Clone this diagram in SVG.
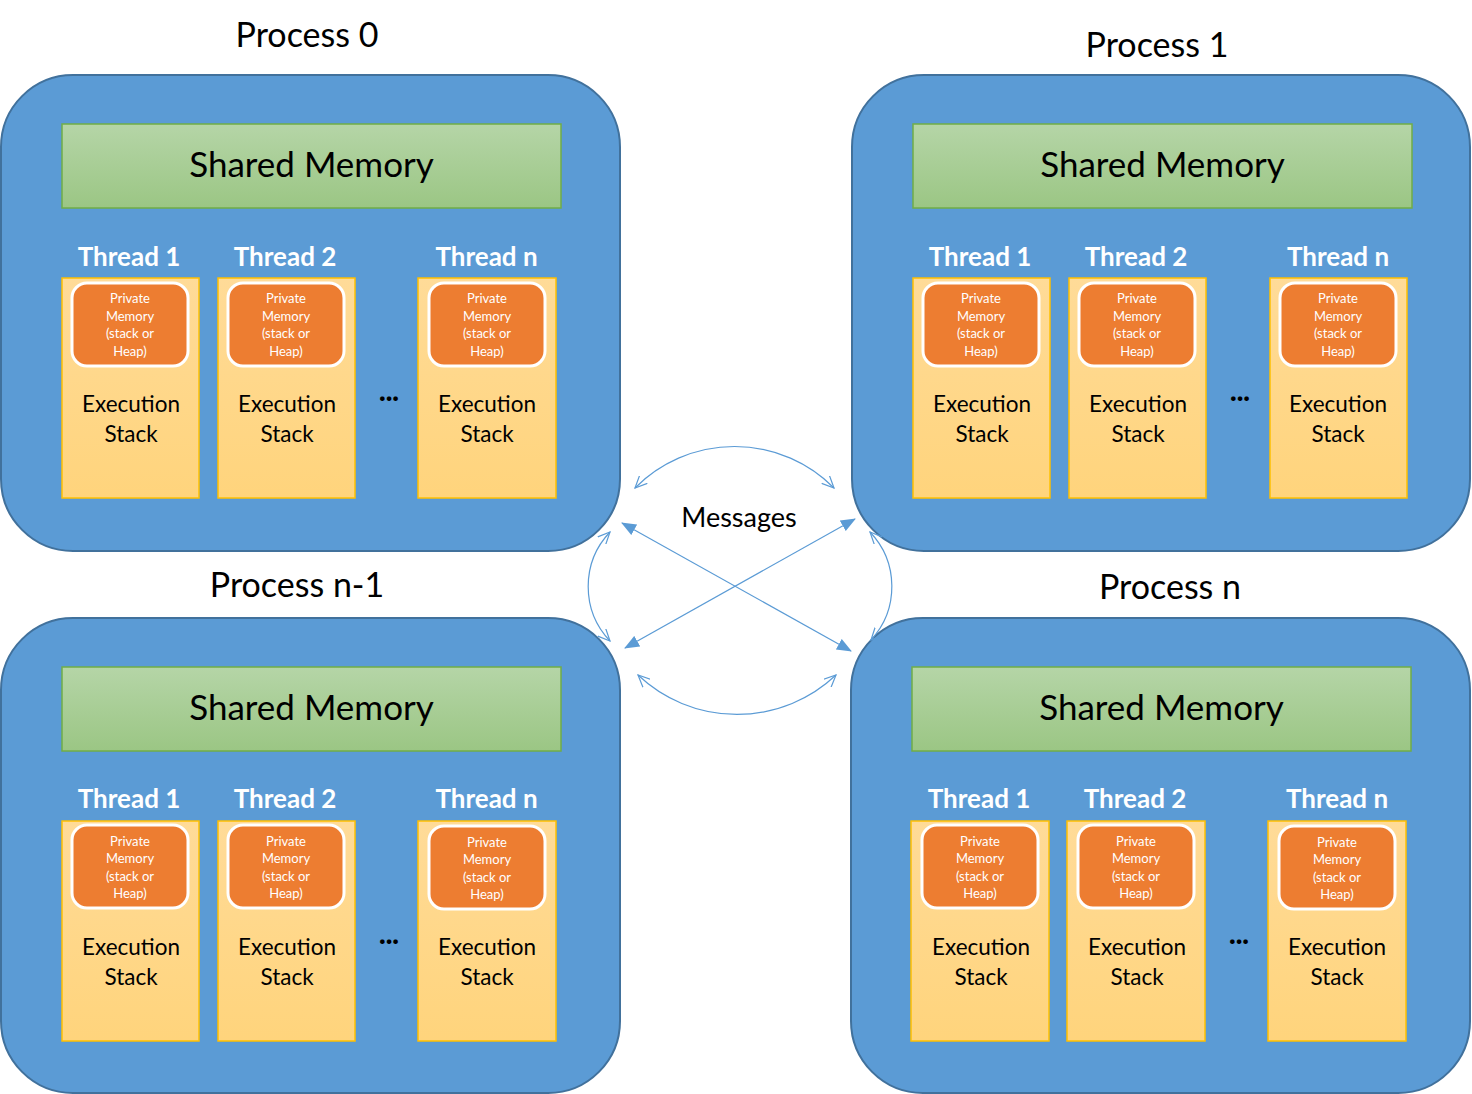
<svg xmlns="http://www.w3.org/2000/svg" width="1472" height="1094" viewBox="0 0 1472 1094">
<style>
text{font-family:Lato,"Liberation Sans",sans-serif;text-anchor:middle}
.proc{fill:#5B9BD5;stroke:#41719C;stroke-width:2}
.shared{fill:url(#gGreen);stroke:#70AD47;stroke-width:1.5}
.thread{fill:url(#gOrange);stroke:#FFC000;stroke-width:1.5}
.priv{fill:#ED7D31;stroke:#FFFFFF;stroke-width:3}
.plabel{font-size:34px;fill:#000}
.stext{font-size:35px;fill:#000}
.tlabel{font-size:26px;font-weight:bold;fill:#FFFFFF}
.ptext{font-size:13px;fill:#FFFFFF}
.etext{font-size:22.5px;fill:#000}
.dots{font-size:28px;font-weight:900;fill:#000}
.conn{fill:none;stroke:#5B9BD5;stroke-width:1.2}
</style>
<defs>
<linearGradient id="gGreen" x1="0" y1="0" x2="0" y2="1"><stop offset="0" stop-color="#B5D5A7"/><stop offset="1" stop-color="#9BC684"/></linearGradient>
<linearGradient id="gOrange" x1="0" y1="0" x2="0" y2="1"><stop offset="0" stop-color="#FFDB98"/><stop offset="1" stop-color="#FFD47C"/></linearGradient>
<marker id="tri" viewBox="0 0 15 12" refX="14" refY="6" markerWidth="15" markerHeight="12" markerUnits="userSpaceOnUse" orient="auto-start-reverse"><path d="M0,0 L15,6 L0,12 z" fill="#5B9BD5"/></marker>
<marker id="open" viewBox="0 0 13 12" refX="12" refY="6" markerWidth="13" markerHeight="12" markerUnits="userSpaceOnUse" orient="auto-start-reverse"><path d="M0,0.5 L12,6 L0,11.5" fill="none" stroke="#5B9BD5" stroke-width="1.2"/></marker>
</defs>

<g id="process0">
<text class="plabel" x="307" y="47">Process 0</text>
<rect class="proc" x="1" y="75" width="619" height="476" rx="72"/>
<g id="p0-shared"><rect class="shared" x="62" y="124" width="499" height="84"/><text class="stext" x="311.5" y="177">Shared Memory</text></g>
<g id="p0-t1"><text class="tlabel" x="129" y="266">Thread 1</text><rect class="thread" x="62" y="278" width="137" height="220"/><rect class="priv" x="72" y="283" width="116" height="83" rx="15"/><text class="ptext" x="130" y="303">Private</text><text class="ptext" x="130" y="320.5">Memory</text><text class="ptext" x="130" y="338">(stack or</text><text class="ptext" x="130" y="355.5">Heap)</text><text class="etext" x="131" y="412">Execution</text><text class="etext" x="131" y="442">Stack</text></g>
<g id="p0-t2"><text class="tlabel" x="285" y="266">Thread 2</text><rect class="thread" x="218" y="278" width="137" height="220"/><rect class="priv" x="228" y="283" width="116" height="83" rx="15"/><text class="ptext" x="286" y="303">Private</text><text class="ptext" x="286" y="320.5">Memory</text><text class="ptext" x="286" y="338">(stack or</text><text class="ptext" x="286" y="355.5">Heap)</text><text class="etext" x="287" y="412">Execution</text><text class="etext" x="287" y="442">Stack</text></g>
<text class="dots" x="389" y="401">...</text>
<g id="p0-tn"><text class="tlabel" x="486.5" y="266">Thread n</text><rect class="thread" x="418" y="278" width="138" height="220"/><rect class="priv" x="429" y="283" width="116" height="83" rx="15"/><text class="ptext" x="487" y="303">Private</text><text class="ptext" x="487" y="320.5">Memory</text><text class="ptext" x="487" y="338">(stack or</text><text class="ptext" x="487" y="355.5">Heap)</text><text class="etext" x="487" y="412">Execution</text><text class="etext" x="487" y="442">Stack</text></g>
</g>

<g id="process1">
<text class="plabel" x="1157" y="57">Process 1</text>
<rect class="proc" x="852" y="75" width="618" height="476" rx="72"/>
<g id="p1-shared"><rect class="shared" x="913" y="124" width="499" height="84"/><text class="stext" x="1162.5" y="177">Shared Memory</text></g>
<g id="p1-t1"><text class="tlabel" x="980" y="266">Thread 1</text><rect class="thread" x="913" y="278" width="137" height="220"/><rect class="priv" x="923" y="283" width="116" height="83" rx="15"/><text class="ptext" x="981" y="303">Private</text><text class="ptext" x="981" y="320.5">Memory</text><text class="ptext" x="981" y="338">(stack or</text><text class="ptext" x="981" y="355.5">Heap)</text><text class="etext" x="982" y="412">Execution</text><text class="etext" x="982" y="442">Stack</text></g>
<g id="p1-t2"><text class="tlabel" x="1136" y="266">Thread 2</text><rect class="thread" x="1069" y="278" width="137" height="220"/><rect class="priv" x="1079" y="283" width="116" height="83" rx="15"/><text class="ptext" x="1137" y="303">Private</text><text class="ptext" x="1137" y="320.5">Memory</text><text class="ptext" x="1137" y="338">(stack or</text><text class="ptext" x="1137" y="355.5">Heap)</text><text class="etext" x="1138" y="412">Execution</text><text class="etext" x="1138" y="442">Stack</text></g>
<text class="dots" x="1240" y="401">...</text>
<g id="p1-tn"><text class="tlabel" x="1338" y="266">Thread n</text><rect class="thread" x="1270" y="278" width="137" height="220"/><rect class="priv" x="1280" y="283" width="116" height="83" rx="15"/><text class="ptext" x="1338" y="303">Private</text><text class="ptext" x="1338" y="320.5">Memory</text><text class="ptext" x="1338" y="338">(stack or</text><text class="ptext" x="1338" y="355.5">Heap)</text><text class="etext" x="1338" y="412">Execution</text><text class="etext" x="1338" y="442">Stack</text></g>
</g>

<g id="processN1">
<text class="plabel" x="297" y="597">Process n-1</text>
<rect class="proc" x="1" y="618" width="619" height="475" rx="72"/>
<g id="pn1-shared"><rect class="shared" x="62" y="667" width="499" height="84"/><text class="stext" x="311.5" y="720">Shared Memory</text></g>
<g id="pn1-t1"><text class="tlabel" x="129" y="808">Thread 1</text><rect class="thread" x="62" y="821" width="137" height="220"/><rect class="priv" x="72" y="825" width="116" height="83" rx="15"/><text class="ptext" x="130" y="845.5">Private</text><text class="ptext" x="130" y="863">Memory</text><text class="ptext" x="130" y="880.5">(stack or</text><text class="ptext" x="130" y="898">Heap)</text><text class="etext" x="131" y="955">Execution</text><text class="etext" x="131" y="985">Stack</text></g>
<g id="pn1-t2"><text class="tlabel" x="285" y="808">Thread 2</text><rect class="thread" x="218" y="821" width="137" height="220"/><rect class="priv" x="228" y="825" width="116" height="83" rx="15"/><text class="ptext" x="286" y="845.5">Private</text><text class="ptext" x="286" y="863">Memory</text><text class="ptext" x="286" y="880.5">(stack or</text><text class="ptext" x="286" y="898">Heap)</text><text class="etext" x="287" y="955">Execution</text><text class="etext" x="287" y="985">Stack</text></g>
<text class="dots" x="389" y="944">...</text>
<g id="pn1-tn"><text class="tlabel" x="486.5" y="808">Thread n</text><rect class="thread" x="418" y="821" width="138" height="220"/><rect class="priv" x="429" y="826" width="116" height="83" rx="15"/><text class="ptext" x="487" y="846.5">Private</text><text class="ptext" x="487" y="864">Memory</text><text class="ptext" x="487" y="881.5">(stack or</text><text class="ptext" x="487" y="899">Heap)</text><text class="etext" x="487" y="955">Execution</text><text class="etext" x="487" y="985">Stack</text></g>
</g>

<g id="processN">
<text class="plabel" x="1170" y="599">Process n</text>
<rect class="proc" x="851" y="618" width="619" height="475" rx="72"/>
<g id="pn-shared"><rect class="shared" x="912" y="667" width="499" height="84"/><text class="stext" x="1161.5" y="720">Shared Memory</text></g>
<g id="pn-t1"><text class="tlabel" x="979" y="808">Thread 1</text><rect class="thread" x="911" y="821" width="138" height="220"/><rect class="priv" x="922" y="825" width="116" height="83" rx="15"/><text class="ptext" x="980" y="845.5">Private</text><text class="ptext" x="980" y="863">Memory</text><text class="ptext" x="980" y="880.5">(stack or</text><text class="ptext" x="980" y="898">Heap)</text><text class="etext" x="981" y="955">Execution</text><text class="etext" x="981" y="985">Stack</text></g>
<g id="pn-t2"><text class="tlabel" x="1135" y="808">Thread 2</text><rect class="thread" x="1067" y="821" width="138" height="220"/><rect class="priv" x="1078" y="825" width="116" height="83" rx="15"/><text class="ptext" x="1136" y="845.5">Private</text><text class="ptext" x="1136" y="863">Memory</text><text class="ptext" x="1136" y="880.5">(stack or</text><text class="ptext" x="1136" y="898">Heap)</text><text class="etext" x="1137" y="955">Execution</text><text class="etext" x="1137" y="985">Stack</text></g>
<text class="dots" x="1239" y="944">...</text>
<g id="pn-tn"><text class="tlabel" x="1337" y="808">Thread n</text><rect class="thread" x="1268" y="821" width="138" height="220"/><rect class="priv" x="1279" y="826" width="116" height="83" rx="15"/><text class="ptext" x="1337" y="846.5">Private</text><text class="ptext" x="1337" y="864">Memory</text><text class="ptext" x="1337" y="881.5">(stack or</text><text class="ptext" x="1337" y="899">Heap)</text><text class="etext" x="1337" y="955">Execution</text><text class="etext" x="1337" y="985">Stack</text></g>
</g>

<g id="connectors">
<path class="conn" d="M635,488 A140,140 0 0 1 834,488" marker-start="url(#open)" marker-end="url(#open)"/>
<path class="conn" d="M638,675 A144,144 0 0 0 836,675" marker-start="url(#open)" marker-end="url(#open)"/>
<path class="conn" d="M610,532 A79,79 0 0 0 610,641" marker-start="url(#open)" marker-end="url(#open)"/>
<path class="conn" d="M870,532 A79,79 0 0 1 871,640" marker-start="url(#open)" marker-end="url(#open)"/>
<path class="conn" d="M622,523 L851,651" marker-start="url(#tri)" marker-end="url(#tri)"/>
<path class="conn" d="M855,519 L625,648" marker-start="url(#tri)" marker-end="url(#tri)"/>
</g>
<text x="739" y="527" style="font-size:27px;fill:#000">Messages</text>
</svg>
